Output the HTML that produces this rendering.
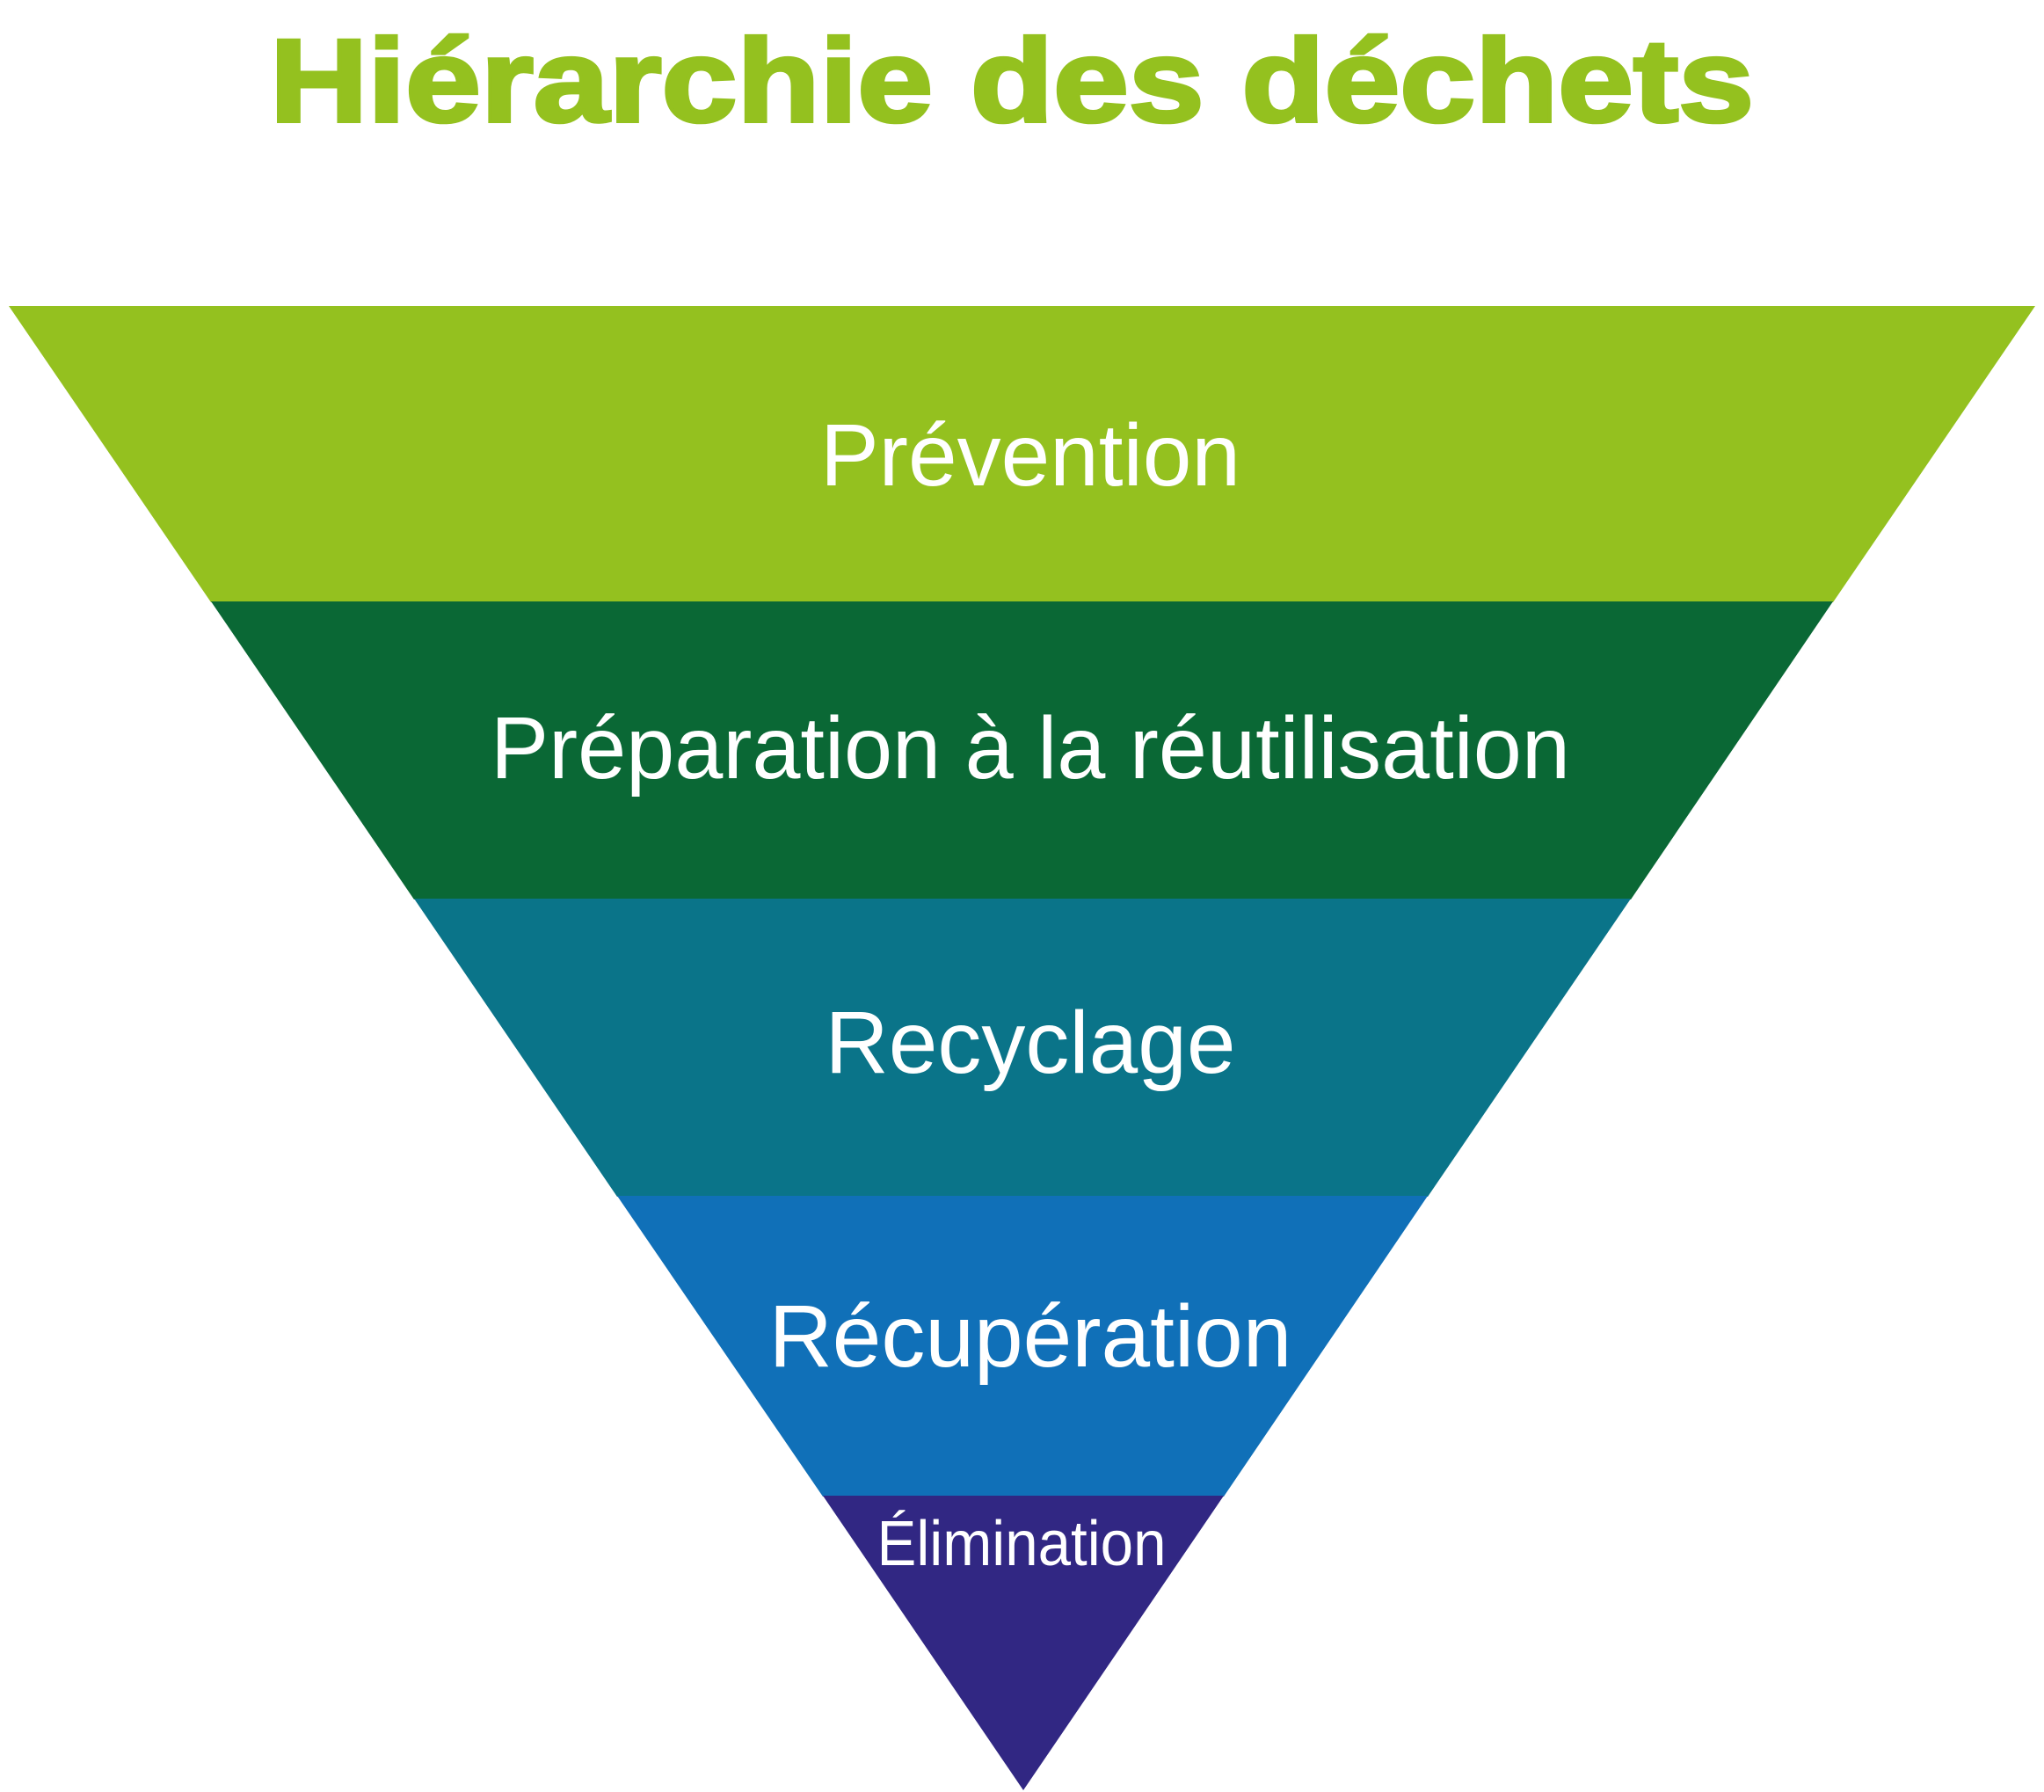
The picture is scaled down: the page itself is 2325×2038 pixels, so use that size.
<!DOCTYPE html>
<html><head><meta charset="utf-8"><style>html,body{margin:0;padding:0;background:#fff}svg{display:block}</style></head>
<body>
<svg width="2325" height="2038" viewBox="0 0 2325 2038" xmlns="http://www.w3.org/2000/svg">
<text x="1151" y="138" text-anchor="middle" font-family="Liberation Sans, sans-serif" font-weight="bold" font-size="134" fill="#94c11f" textLength="1688" lengthAdjust="spacingAndGlyphs" stroke="#94c11f" stroke-width="4">Hiérarchie des déchets</text>
<polygon points="10,348 2315,348 2085,685 240,685" fill="#94c11f"/>
<polygon points="240,684 2085,684 1855,1023 471,1023" fill="#0a6835"/>
<polygon points="471,1022 1855,1022 1624,1361 702,1361" fill="#0a7489"/>
<polygon points="702,1360 1624,1360 1392,1702 936,1702" fill="#1070b8"/>
<polygon points="936,1701 1392,1701 1164,2036" fill="#312783"/>
<g font-family="Liberation Sans, sans-serif" fill="#fff" text-anchor="middle">
<text x="1172" y="552" font-size="100">Prévention</text>
<text x="1172" y="885" font-size="100" textLength="1228" lengthAdjust="spacingAndGlyphs">Préparation à la réutilisation</text>
<text x="1172" y="1220" font-size="100">Recyclage</text>
<text x="1172" y="1554" font-size="100">Récupération</text>
<text x="1162" y="1780" font-size="72" textLength="329" lengthAdjust="spacingAndGlyphs">Élimination</text>
</g>
</svg>
</body></html>
